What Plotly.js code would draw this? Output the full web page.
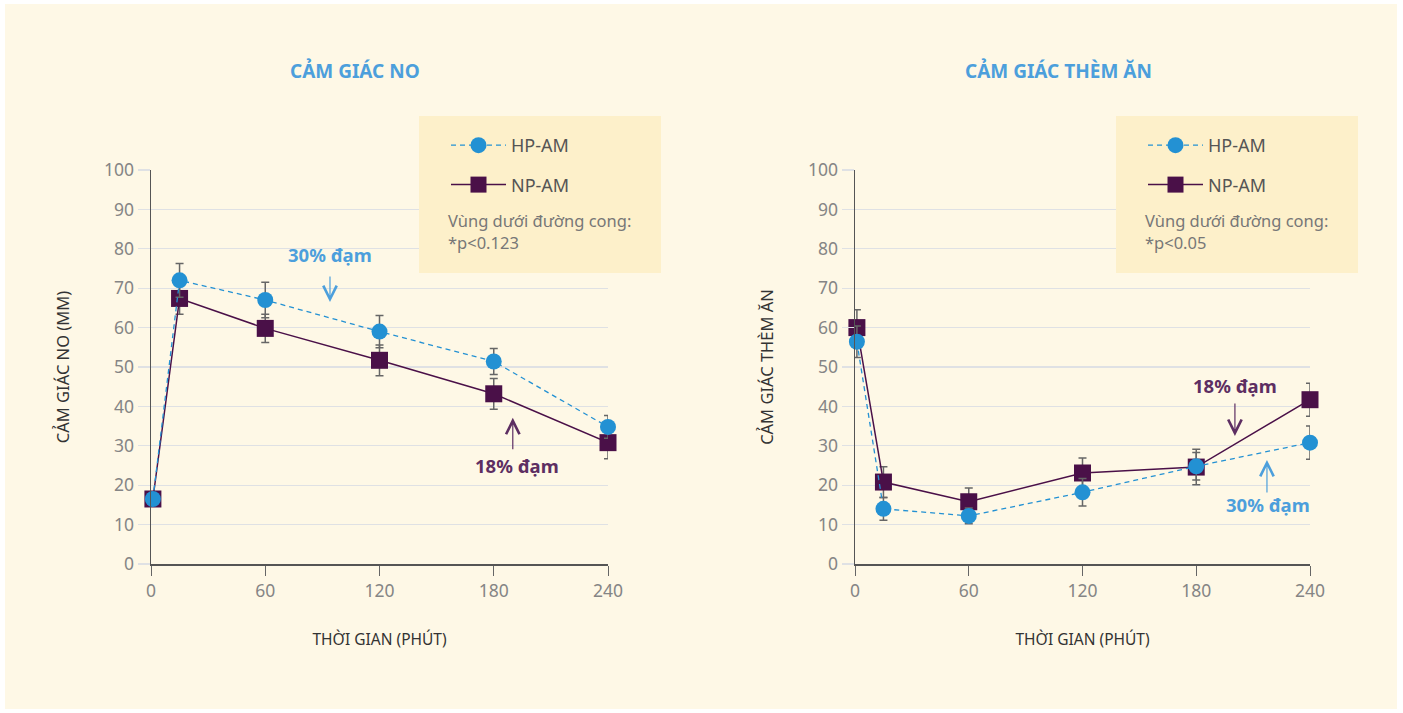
<!DOCTYPE html>
<html>
<head>
<meta charset="utf-8">
<script src="https://cdn.plot.ly/plotly-3.0.1.min.js"></script>
<style>html,body{margin:0;padding:0;background:#fff;}#chart{width:1403px;height:713px;}</style>
</head>
<body>
<div id="chart"></div>
<script>
// ---- data ----
const timesNo = [1, 15, 60, 120, 180, 240];
const hpNo = [16.5, 72, 67, 59, 51.4, 34.8];
const hpNoErr = [0, 4.3, 4.5, 4.1, 3.3, 2.9];
const npNo = [16.5, 67.4, 59.8, 51.7, 43.2, 30.8];
const npNoErr = [0, 4, 3.6, 3.9, 3.9, 4.1];

const timesThem = [1, 15, 60, 120, 180, 240];
const hpThem = [56.4, 14.0, 12.2, 18.2, 24.8, 30.8];
const hpThemErr = [4, 2.9, 2, 3.5, 3.5, 4.2];
const npThem = [60.0, 20.8, 15.8, 23.1, 24.6, 41.7];
const npThemErr = [4.5, 3.9, 3.5, 3.8, 4.5, 4.2];

const seriesNames = ['HP-AM', 'NP-AM'];
const xTicks = [0, 60, 120, 180, 240];
const yTicks = [0, 10, 20, 30, 40, 50, 60, 70, 80, 90, 100];
const chartTitles = ['CẢM GIÁC NO', 'CẢM GIÁC THÈM ĂN'];
const yTitles = ['CẢM GIÁC NO (MM)', 'CẢM GIÁC THÈM ĂN'];
const xTitle = 'THỜI GIAN (PHÚT)';
const pNotes = ['*p<0.123', '*p<0.05'];
const noteLabel = 'Vùng dưới đường cong:';
const annotLabels = ['30% đạm', '18% đạm'];

// ---- style ----
const FONT = 'Noto Sans, Open Sans, sans-serif';
const BLUE = '#2391d3';
const PURPLE = '#4a1048';
const BLUE_TXT = '#4c9fdc';
const PURPLE_TXT = '#5d2e62';
const ERR = '#666666';
const H = 713, W = 1403;
const py = p => (H - p) / H;
const px = p => p / W;

function npTrace(x, y, e, xa, ya, leg) {
  return {x: x, y: y, xaxis: xa, yaxis: ya, name: seriesNames[1], legend: leg, cliponaxis: false,
    legendgroup: leg + 'np', legendrank: 2, mode: 'lines+markers', type: 'scatter',
    line: {color: PURPLE, width: 1.5},
    marker: {symbol: 'square', size: 17, color: PURPLE},
    error_y: {type: 'data', array: e, visible: true, color: ERR, thickness: 1.5, width: 4}};
}
function hpTrace(x, y, e, xa, ya, leg) {
  return {x: x, y: y, xaxis: xa, yaxis: ya, name: seriesNames[0], legend: leg, cliponaxis: false,
    legendgroup: leg + 'hp', legendrank: 1, mode: 'lines+markers', type: 'scatter',
    line: {color: BLUE, width: 1.3, dash: '5px,4px'},
    marker: {symbol: 'circle', size: 16, color: BLUE},
    error_y: {type: 'data', array: e, visible: true, color: ERR, thickness: 1.5, width: 4}};
}

const traces = [
  npTrace(timesNo, npNo, npNoErr, 'x', 'y', 'legend'),
  hpTrace(timesNo, hpNo, hpNoErr, 'x', 'y', 'legend'),
  npTrace(timesThem, npThem, npThemErr, 'x2', 'y2', 'legend2'),
  hpTrace(timesThem, hpThem, hpThemErr, 'x2', 'y2', 'legend2')
];

function xAxis(dom, anchor) {
  return {domain: dom, anchor: anchor, range: [0, 240], tickvals: xTicks, ticktext: xTicks.map(String),
    showgrid: false, zeroline: false, showline: true, linecolor: '#555', linewidth: 1.5,
    ticks: 'outside', ticklen: 10, tickcolor: '#666', tickwidth: 1,
    tickfont: {family: FONT, size: 17.5, color: '#858585'},
    title: {text: xTitle, font: {family: FONT, size: 15.5, color: '#333'}, standoff: 33}, fixedrange: true};
}
function yAxis(anchor, t) {
  return {domain: [py(564), py(170)], anchor: anchor, range: [0, 100], tickvals: yTicks,
    showgrid: true, gridcolor: '#dfe1e4', gridwidth: 1.3, zeroline: false, showline: true,
    linecolor: '#555', linewidth: 1.5, ticks: 'outside', ticklen: 12, tickcolor: '#dfe1e4', tickwidth: 1.3,
    tickfont: {family: FONT, size: 17.5, color: '#858585'},
    title: {text: t, font: {family: FONT, size: 16.5, color: '#333'}, standoff: 30}, fixedrange: true};
}

const annotations = [];
// chart titles
[[355, chartTitles[0]], [1058, chartTitles[1]]].forEach(([xp, t]) => {
  annotations.push({xref: 'paper', yref: 'paper', x: px(xp), y: py(71), text: '<b>' + t + '</b>',
    showarrow: false, font: {family: FONT, size: 19, color: BLUE_TXT}, xanchor: 'center', yanchor: 'middle'});
});
// legend notes
[[446, 0], [1143, 1]].forEach(([xp, i]) => {
  annotations.push({xref: 'paper', yref: 'paper', x: px(xp), y: py(220), text: noteLabel, showarrow: false,
    xanchor: 'left', yanchor: 'middle', font: {family: FONT, size: 16.5, color: '#777'}});
  annotations.push({xref: 'paper', yref: 'paper', x: px(xp), y: py(243), text: pNotes[i], showarrow: false,
    xanchor: 'left', yanchor: 'middle', font: {family: FONT, size: 16.5, color: '#777'}});
});
// callouts
function label(xa, ya, x, y, t, c) {
  annotations.push({xref: xa, yref: ya, x: x, y: y, text: '<b>' + t + '</b>', showarrow: false,
    font: {family: FONT, size: 18.5, color: c}, xanchor: 'center', yanchor: 'middle'});
}
function arrow(xa, ya, x, y, ay, c) {
  annotations.push({xref: xa, yref: ya, x: x, y: y, text: '', showarrow: true, ax: 0, ay: ay,
    arrowhead: 5, arrowsize: 2.2, arrowwidth: 1.2, arrowcolor: c});
}
label('x', 'y', 94, 78.6, annotLabels[0], BLUE_TXT);
arrow('x', 'y', 94, 66.5, -27, BLUE_TXT);
label('x', 'y', 192, 24.9, annotLabels[1], PURPLE_TXT);
arrow('x', 'y', 190, 37.1, 33, PURPLE_TXT);
label('x2', 'y2', 200.4, 45.2, annotLabels[1], PURPLE_TXT);
arrow('x2', 'y2', 200.4, 32.5, -34, PURPLE_TXT);
label('x2', 'y2', 218, 15.2, annotLabels[0], BLUE_TXT);
arrow('x2', 'y2', 217.3, 26.4, 34, BLUE_TXT);

const shapes = [
  {type: 'rect', xref: 'paper', yref: 'paper', x0: px(5), x1: px(1397), y0: py(709), y1: py(4),
    fillcolor: '#fef8e6', line: {width: 0}, layer: 'below'},
  {type: 'rect', xref: 'paper', yref: 'paper', x0: px(419), x1: px(661), y0: py(273), y1: py(116),
    fillcolor: '#fdf0ca', line: {width: 0}, layer: 'above'},
  {type: 'rect', xref: 'paper', yref: 'paper', x0: px(1116), x1: px(1358), y0: py(273), y1: py(116),
    fillcolor: '#fdf0ca', line: {width: 0}, layer: 'above'}
];

function legendCfg(xp) {
  return {x: px(xp), y: py(127), xanchor: 'left', yanchor: 'top', bgcolor: 'rgba(0,0,0,0)',
    font: {family: FONT, size: 18, color: '#555'}, itemwidth: 55, traceorder: 'grouped',
    tracegroupgap: 13, borderwidth: 0};
}

const layout = {
  width: W, height: H, margin: {l: 0, r: 0, t: 0, b: 0},
  paper_bgcolor: '#ffffff', plot_bgcolor: 'rgba(0,0,0,0)',
  showlegend: true,
  xaxis: xAxis([px(151), px(608)], 'y'),
  yaxis: yAxis('x', yTitles[0]),
  xaxis2: xAxis([px(855), px(1310)], 'y2'),
  yaxis2: yAxis('x2', yTitles[1]),
  legend: legendCfg(446),
  legend2: legendCfg(1143),
  annotations: annotations,
  shapes: shapes
};

Plotly.newPlot('chart', traces, layout, {displayModeBar: false, staticPlot: true});
</script>
</body>
</html>
